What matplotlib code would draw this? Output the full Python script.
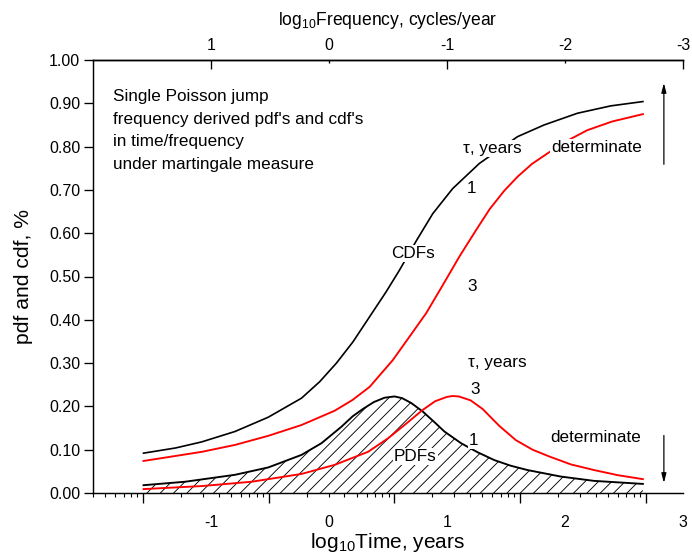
import matplotlib
matplotlib.use("Agg")
import numpy as np
import matplotlib.pyplot as plt
from matplotlib.ticker import FormatStrFormatter

plt.rcParams['font.family'] = ['Liberation Sans', 'DejaVu Sans']
plt.rcParams['mathtext.fontset'] = 'custom'
plt.rcParams['mathtext.rm'] = 'Liberation Sans'
plt.rcParams['axes.unicode_minus'] = False
plt.rcParams['hatch.linewidth'] = 0.8

# x = log10 time, years
cdf1_x = [-1.572, -1.30, -1.079, -0.797, -0.515, -0.233, -0.079, 0.063, 0.203, 0.344,
          0.485, 0.598, 0.739, 0.879, 1.048, 1.274, 1.598, 1.823, 2.105, 2.387, 2.66]
cdf1_y = [0.092, 0.104, 0.118, 0.142, 0.175, 0.219, 0.257, 0.300, 0.349, 0.407,
          0.465, 0.515, 0.582, 0.645, 0.703, 0.761, 0.823, 0.850, 0.877, 0.894, 0.904]

cdf3_x = [-1.572, -1.079, -0.797, -0.515, -0.233, 0.048, 0.200, 0.344, 0.541, 0.682,
          0.823, 0.964, 1.105, 1.246, 1.360, 1.485, 1.600, 1.720, 1.866, 2.050, 2.190,
          2.400, 2.66]
cdf3_y = [0.074, 0.095, 0.111, 0.132, 0.157, 0.190, 0.215, 0.245, 0.307, 0.361,
          0.415, 0.480, 0.546, 0.607, 0.655, 0.698, 0.731, 0.760, 0.787, 0.818, 0.838,
          0.858, 0.875]

pdf1_x = [-1.572, -1.220, -0.797, -0.515, -0.233, -0.064, 0.105, 0.200, 0.287, 0.380,
          0.470, 0.555, 0.620, 0.696, 0.795, 0.900, 0.978, 1.119, 1.260, 1.401, 1.540,
          1.682, 1.964, 2.246, 2.66]
pdf1_y = [0.018, 0.026, 0.042, 0.059, 0.088, 0.115, 0.153, 0.177, 0.194, 0.210,
          0.220, 0.223, 0.219, 0.208, 0.188, 0.162, 0.142, 0.115, 0.094, 0.076, 0.063,
          0.053, 0.038, 0.028, 0.021]

pdf3_x = [-1.572, -1.079, -0.656, -0.233, 0.048, 0.330, 0.499, 0.640, 0.795, 0.900,
          1.000, 1.048, 1.100, 1.200, 1.302, 1.443, 1.584, 1.725, 1.870, 2.050, 2.246,
          2.450, 2.66]
pdf3_y = [0.009, 0.016, 0.026, 0.044, 0.065, 0.095, 0.126, 0.157, 0.192, 0.212,
          0.222, 0.224, 0.223, 0.214, 0.194, 0.155, 0.122, 0.100, 0.084, 0.066, 0.053,
          0.041, 0.032]

note_lines = ["Single Poisson jump", "frequency derived pdf's and cdf's",
              "in time/frequency", "under martingale measure"]

time_labels = [-1, 0, 1, 2, 3]
freq_major = [1, -1, -3]
freq_minor = [0, -2]

# log-decade tick marks drawn under the time axis
decade0, decade_w = -1.575, 1.065

DPI = 80
fig = plt.figure(figsize=(692 / DPI, 558 / DPI), dpi=DPI)
ax = fig.add_axes([93 / 692, 65 / 558, 590 / 692, 433 / 558])

ax.fill_between(pdf1_x, 0, pdf1_y, facecolor='none', edgecolor='black', hatch='//', linewidth=0)
ax.plot(cdf1_x, cdf1_y, color='black', lw=1.5)
ax.plot(cdf3_x, cdf3_y, color='red', lw=1.7)
ax.plot(pdf1_x, pdf1_y, color='black', lw=1.7)
ax.plot(pdf3_x, pdf3_y, color='red', lw=1.7)

ax.set_xlim(-2, 3)
ax.set_ylim(0, 1)
ax.spines['right'].set_visible(False)
for s in ['left', 'bottom', 'top']:
    ax.spines[s].set_linewidth(1.3)

ax.set_yticks(np.arange(0, 1.01, 0.1))
ax.yaxis.set_major_formatter(FormatStrFormatter('%.2f'))
ax.tick_params(axis='y', direction='out', length=8, width=1.2, labelsize=14.4, right=False)
ax.set_ylabel('pdf and cdf, %', fontsize=19, labelpad=14)

major = [decade0 + k * decade_w for k in range(5)]
minor = [decade0 + (k + np.log10(m)) * decade_w for k in range(-1, 4) for m in range(2, 10)]
minor = [v for v in minor if -2 <= v <= 3]
ax.set_xticks(major)
ax.set_xticks(minor, minor=True)
ax.tick_params(axis='x', which='major', direction='out', length=9, width=1.2, labelbottom=False, top=False)
ax.tick_params(axis='x', which='minor', direction='out', length=4, width=1.0, top=False)

bot = ax.secondary_xaxis('bottom')
bot.set_xticks(time_labels)
bot.tick_params(length=0, pad=20, labelsize=14.4)
bot.spines['bottom'].set_visible(False)
bot.set_xlabel(r'log$_{\mathrm{10}}$Time, years', fontsize=18.8, labelpad=1)

top = ax.secondary_xaxis('top', functions=(lambda v: -v, lambda v: -v))
top.set_xticks(freq_major)
top.set_xticks(freq_minor, labels=[str(v) for v in freq_minor], minor=True)
top.tick_params(which='major', direction='in', length=8, width=1.2, labelsize=14.4, pad=6)
top.tick_params(which='minor', direction='in', length=3, width=1.2, labelsize=14.4, pad=6)
top.spines['top'].set_linewidth(1.3)
top.set_xlabel(r'log$_{\mathrm{10}}$Frequency, cycles/year', fontsize=15.8, labelpad=12)

box = dict(facecolor='white', edgecolor='none', pad=1)
fs = 15.4
for i, line in enumerate(note_lines):
    ax.text(-1.828, 0.916 - i * 0.0526, line, fontsize=fs, ha='left', va='center')

ax.text(1.386, 0.796, 'τ, years', fontsize=fs, ha='center', va='center', bbox=box)
ax.text(1.204, 0.704, '1', fontsize=fs, ha='center', va='center', bbox=box)
ax.text(2.266, 0.798, 'determinate', fontsize=fs, ha='center', va='center', bbox=box)
ax.text(0.716, 0.553, 'CDFs', fontsize=fs, ha='center', va='center', bbox=box)
ax.text(1.209, 0.478, '3', fontsize=fs, ha='center', va='center', bbox=box)
ax.text(1.429, 0.302, 'τ, years', fontsize=fs, ha='center', va='center', bbox=box)
ax.text(1.237, 0.238, '3', fontsize=fs, ha='center', va='center', bbox=box)
ax.text(1.223, 0.122, '1', fontsize=fs, ha='center', va='center', bbox=box)
ax.text(2.260, 0.129, 'determinate', fontsize=fs, ha='center', va='center', bbox=box)
ax.text(0.730, 0.084, 'PDFs', fontsize=fs, ha='center', va='center', bbox=box)

arrow = dict(arrowstyle='-|>,head_width=0.18,head_length=0.7', color='black', lw=1.1)
ax.annotate('', xy=(2.838, 0.952), xytext=(2.838, 0.754), arrowprops=arrow)
ax.annotate('', xy=(2.838, 0.018), xytext=(2.838, 0.138), arrowprops=arrow)

fig.savefig('out.png', dpi=DPI)
